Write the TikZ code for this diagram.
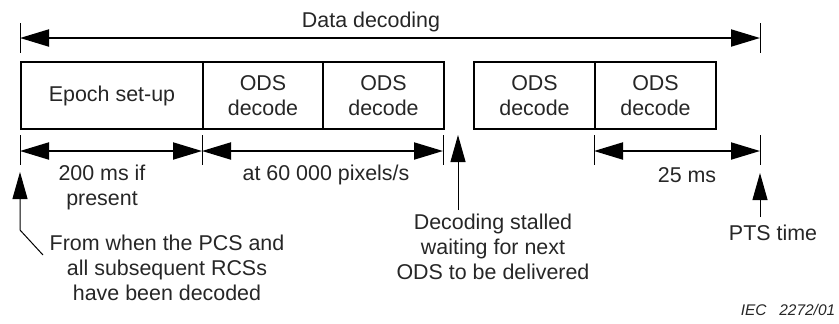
\documentclass[tikz,border=0pt]{standalone}
\usepackage{fontspec}
\setmainfont{Liberation Sans}
\usetikzlibrary{arrows.meta}
\begin{document}
\begin{tikzpicture}[x=1bp,y=-1bp,
  txt/.style={text=black!85, font=\fontsize{21.5}{25}\selectfont},
  box/.style={txt, draw=black, line width=2bp, minimum height=67bp, inner sep=0pt, align=center, anchor=north west},
  lbl/.style={txt, align=center, inner sep=0pt},
  dimarrow/.style={line width=2bp, {Triangle[length=29bp,width=17bp]}-{Triangle[length=29bp,width=17bp]}},
  tickline/.style={line width=1bp},
  ptr/.style={line width=1bp, -{Triangle[length=27bp,width=15bp]}}]
\useasboundingbox (0,0) rectangle (839,323);

% top dimension
\node[lbl] (title) at (371,22) {Data decoding};
\coordinate (dL) at (20,38);
\coordinate (dR) at (760,38);
\draw[tickline] (20,23) -- (20,53);
\draw[tickline] (760,23) -- (760,53);
\draw[dimarrow] (dL) -- (dR);

% boxes
\node[box, minimum width=182bp] (b1) at (20,61) {Epoch set-up};
\node[box, minimum width=120bp] (b2) at (202,61) {ODS\\decode};
\node[box, minimum width=121bp] (b3) at (322,61) {ODS\\decode};
\node[box, minimum width=121bp] (b4) at (473,61) {ODS\\decode};
\node[box, minimum width=121bp] (b5) at (594,61) {ODS\\decode};

% second row dimensions
\coordinate (a0) at (20,151);
\coordinate (a1) at (202,151);
\coordinate (a2) at (443,151);
\coordinate (a3) at (594,151);
\coordinate (a4) at (760,151);
\foreach \x in {20,202,443,594,760} \draw[tickline] (\x,135) -- (\x,165);
\draw[dimarrow] (a0) -- (a1);
\draw[dimarrow] (a1) -- (a2);
\draw[dimarrow] (a3) -- (a4);

\node[lbl] (l1) at (102,187.5) {200 ms if\\present};
\node[lbl] (l2) at (326,175) {at 60 000 pixels/s};
\node[lbl] (l3) at (687,175) {25 ms};

% pointers
\node[lbl] (n1) at (167,268) {From when the PCS and\\all subsequent RCSs\\have been decoded};
\coordinate (p1s) at (43,255);
\coordinate (p1b) at (20,230);
\coordinate (p1t) at (20,172);
\draw[ptr] (p1s) -- (p1b) -- (p1t);

\node[lbl] (n2) at (493,247) {Decoding stalled\\waiting for next\\ODS to be delivered};
\coordinate (p2s) at (458,210);
\coordinate (p2t) at (458,135);
\draw[ptr] (p2s) -- (p2t);

\node[lbl] (n3) at (773,233) {PTS time};
\coordinate (p3s) at (760,217);
\coordinate (p3t) at (760,173);
\draw[ptr] (p3s) -- (p3t);

\node[txt, inner sep=0pt, font=\fontsize{15.5}{18}\selectfont\itshape] (iec) at (788,310) {IEC\ \ \ 2272/01};
\end{tikzpicture}
\end{document}
